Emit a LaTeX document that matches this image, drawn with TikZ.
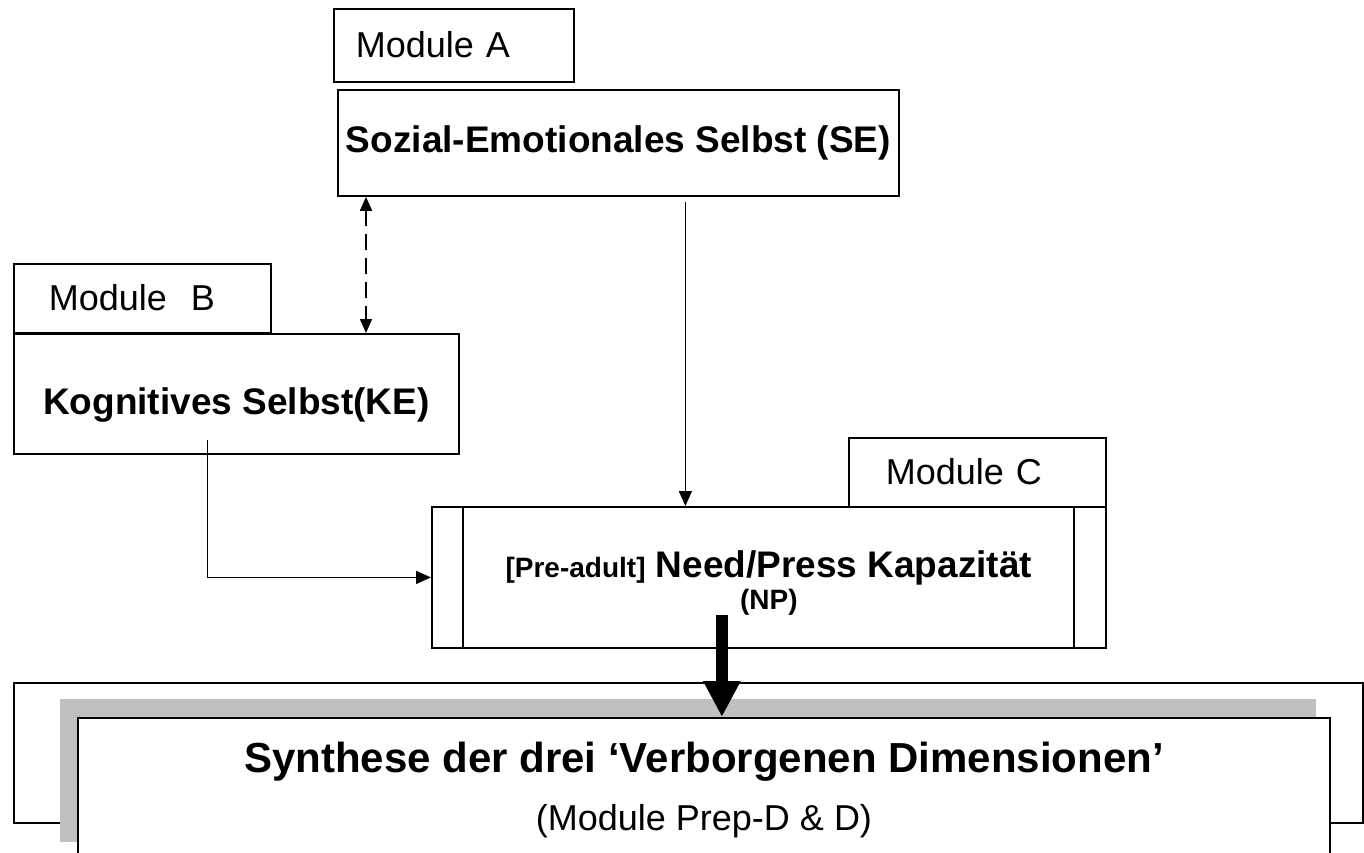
\documentclass[tikz,border=0pt]{standalone}
\usepackage{fontspec}
\setmainfont{Liberation Sans}
\usepackage{tikz}
\usetikzlibrary{arrows.meta, positioning}
\definecolor{shadowgray}{RGB}{192,192,192}
\newcommand{\fsz}[1]{\fontsize{#1}{#1}\selectfont}
\tikzset{
  modtab/.style={
    rectangle,
    anchor=north west,
    align=left,
    inner ysep=0pt,
    text height=30pt,
    text depth=6pt,
    draw=black,
    line width=1.8pt,
    fill=white,
    font=\fsz{36}
    },
  selfbox/.style={
    rectangle,
    anchor=north west,
    inner sep=2pt,
    draw=black,
    line width=1.8pt,
    fill=white,
    font=\bfseries\fsz{37}
    },
  synbox/.style={
    rectangle,
    anchor=north west,
    draw=black,
    line width=2pt,
    fill=white
    },
  arrow/.style={line width=1.6pt,-{Triangle[length=15pt,width=13pt]}},
  dasharrow/.style={line width=1.6pt, dash pattern=on 16pt off 8pt,
    {Triangle[length=14pt,width=12pt]}-{Triangle[length=14pt,width=12pt]}},
  bigarrow/.style={line width=11.5pt,-{Triangle[length=36pt,width=35pt]}},
}

\begin{document}
\begin{tikzpicture}[x=1pt, y=-1pt]
\useasboundingbox (0,0) rectangle (1364,852);

\node (modA) [modtab, text width=196pt, inner xsep=22pt, minimum height=73pt] at (333,8) {Module A};
\node (se) [selfbox, minimum width=561pt, minimum height=106pt, text height=27pt, text depth=7pt] at (337,89) {Sozial-Emotionales Selbst (SE)};
\node (modB) [modtab, text width=187pt, inner xsep=35pt, minimum height=69pt] at (13,263) {Module~ B};
\node (ke) [selfbox, minimum width=445pt, minimum height=120pt, text height=50pt, text depth=8pt] at (13,333) {Kognitives Selbst(KE)};
\node (modC) [modtab, text width=183pt, inner xsep=37pt, minimum height=70pt] at (848,437) {Module C};
\node (np) [selfbox, minimum width=674pt, minimum height=141pt, text height=13pt, text depth=13pt] at (431,506) {{\fsz{28}[Pre-adult]} Need/Press Kapazität};
\node (npAbbr) [anchor=base, font=\bfseries\fsz{28}] at ([yshift=-32pt]np.center) {(NP)};
\draw [line width=1.8pt] ([xshift=32pt]np.north west) -- ([xshift=32pt]np.south west);
\draw [line width=1.8pt] ([xshift=-33pt]np.north east) -- ([xshift=-33pt]np.south east);

% synthesis block with frame and shadow
\node (synBack) [synbox, minimum width=1349pt, minimum height=140pt] at (13,682) {};
\node (synShadow) [rectangle, anchor=north west, fill=shadowgray, minimum width=1256pt, minimum height=143pt] at (60,699) {};
\node (syn) [synbox, minimum width=1252pt, minimum height=142pt] at (77,717) {};
\node (synTitle) [anchor=base, font=\bfseries\fsz{42}] at ([yshift=-55pt]syn.north) {Synthese der drei ‘Verborgenen Dimensionen’};
\node (synSub) [anchor=base, font=\fsz{36}] at ([yshift=-113pt]syn.north) {(Module Prep-D \& D)};

\coordinate (seOut) at ([xshift=67pt,yshift=-5pt]se.south);
\coordinate (keOut) at ([xshift=-29pt,yshift=15pt]ke.south);
\coordinate (npOut) at ([xshift=-47pt,yshift=34pt]np.south);

\draw [dasharrow] ([xshift=29pt]se.south west) -- ([xshift=29pt]se.south west |- ke.north);
\draw [arrow] (seOut) -- (seOut |- np.north);
\draw [arrow] (keOut) |- (np.west);
\draw [bigarrow] (npOut) -- (npOut |- syn.north);

\end{tikzpicture}
\end{document}
